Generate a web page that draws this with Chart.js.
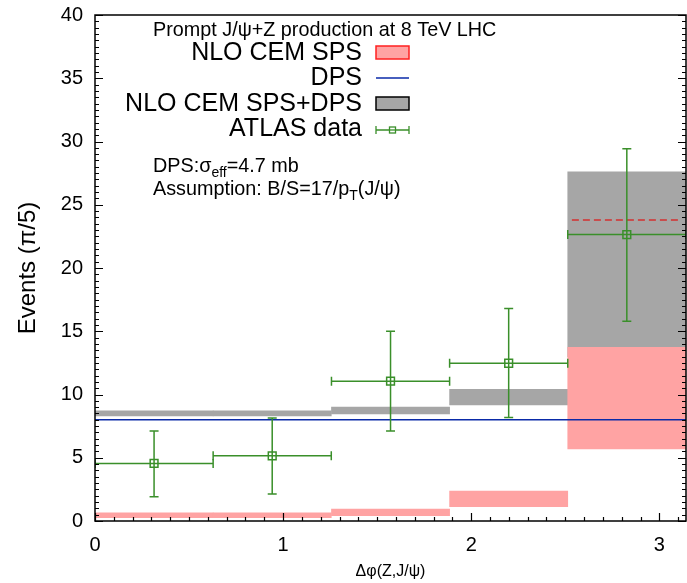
<!DOCTYPE html>
<html><head><meta charset="utf-8">
<script src="https://cdn.jsdelivr.net/npm/chart.js@4/dist/chart.umd.min.js"></script>
<style>html,body{margin:0;padding:0;background:#fff;overflow:hidden}canvas{display:block}</style>
</head><body><canvas id="c" width="687" height="583"></canvas>
<script>
// ---- data ----
const binCenters = [0.314, 0.942, 1.571, 2.199, 2.827];
const binHalfWidth = 0.314;
const sumLow  = [8.3, 8.3, 8.47, 9.18, 13.0];
const sumHigh = [8.7, 8.7, 9.0, 10.4, 27.6];
const spsLow  = [0.26, 0.26, 0.42, 1.13, 5.7];
const spsHigh = [0.65, 0.65, 0.95, 2.37, 13.73];
const dpsX = [0, Math.PI];
const dpsY = [8.0, 8.0];
const dashX = [2.535, 3.11];
const dashY = [23.8, 23.8];
const dataY = [4.55, 5.15, 11.05, 12.47, 22.64];
const dataYUp = [7.12, 8.15, 15.0, 16.8, 29.43];
const dataYDown = [1.92, 2.13, 7.12, 8.18, 15.8];
const xTicks = [0, 1, 2, 3];
const yTicks = [0, 5, 10, 15, 20, 25, 30, 35, 40];

const FONT = '"Liberation Sans", Arial, Helvetica, sans-serif';
const GREEN = '#3a8f2a';
const PINK = '#ffa3a3';
const GRAY = '#a6a6a6';
const BLUE = '#0a2aa8';

const errorBars = {
  id: 'errorBars',
  afterDatasetsDraw(chart) {
    const {ctx, chartArea: a, scales: {x, y}} = chart;
    ctx.save();
    ctx.beginPath(); ctx.rect(a.left, a.top, a.right - a.left, a.bottom - a.top); ctx.clip();
    ctx.strokeStyle = GREEN; ctx.lineWidth = 1.5;
    binCenters.forEach((cx, i) => {
      const px = x.getPixelForValue(cx), py = y.getPixelForValue(dataY[i]);
      const x0 = x.getPixelForValue(cx - binHalfWidth), x1 = x.getPixelForValue(cx + binHalfWidth);
      const yu = y.getPixelForValue(dataYUp[i]), yd = y.getPixelForValue(dataYDown[i]);
      ctx.beginPath();
      ctx.moveTo(x0, py); ctx.lineTo(x1, py);
      ctx.moveTo(x0, py - 4.5); ctx.lineTo(x0, py + 4.5);
      ctx.moveTo(x1, py - 4.5); ctx.lineTo(x1, py + 4.5);
      ctx.moveTo(px, yu); ctx.lineTo(px, yd);
      ctx.moveTo(px - 4.5, yu); ctx.lineTo(px + 4.5, yu);
      ctx.moveTo(px - 4.5, yd); ctx.lineTo(px + 4.5, yd);
      ctx.stroke();
    });
    ctx.restore();
  }
};

function drawSub(ctx, parts, x, yb) {
  let cx = x;
  parts.forEach(p => {
    ctx.font = (p.sub ? '14px ' : '19.8px ') + FONT;
    ctx.fillText(p.t, cx, yb + (p.sub ? 4.5 : 0));
    cx += ctx.measureText(p.t).width;
  });
}

const frame = {
  id: 'frame',
  afterDraw(chart) {
    const {ctx, chartArea: a, scales: {x, y}} = chart;
    ctx.save();
    ctx.strokeStyle = '#000'; ctx.lineWidth = 1.5;
    ctx.strokeRect(a.left, a.top, a.right - a.left, a.bottom - a.top);
    ctx.lineWidth = 1.2;
    ctx.beginPath();
    for (let k = 0; k <= 80; k++) {
      const v = k * 0.5, py = Math.round(y.getPixelForValue(v)) + 0.5;
      const len = (k % 10 === 0) ? 8 : 4;
      ctx.moveTo(a.left, py); ctx.lineTo(a.left + len, py);
      ctx.moveTo(a.right, py); ctx.lineTo(a.right - len, py);
    }
    for (let k = 0; k <= 31; k++) {
      const v = k * 0.1, px = Math.round(x.getPixelForValue(v)) + 0.5;
      const len = (k % 10 === 0) ? 8 : 4;
      ctx.moveTo(px, a.bottom); ctx.lineTo(px, a.bottom - len);
    }
    ctx.stroke();

    // legend & annotations
    ctx.fillStyle = '#000';
    ctx.textBaseline = 'alphabetic';
    ctx.font = '19.8px ' + FONT;
    ctx.textAlign = 'left';
    ctx.fillText('Prompt J/\u03c8+Z production at 8 TeV LHC', 153, 36);
    ctx.font = '25px ' + FONT;
    ctx.textAlign = 'right';
    ctx.fillText('NLO CEM SPS', 362, 60);
    ctx.fillText('DPS', 362, 85);
    ctx.fillText('NLO CEM SPS+DPS', 362, 111);
    ctx.fillText('ATLAS data', 362, 136);
    ctx.textAlign = 'left';
    // symbols
    ctx.fillStyle = PINK; ctx.fillRect(376, 46, 33, 13);
    ctx.strokeStyle = '#ff2020'; ctx.lineWidth = 1.5; ctx.strokeRect(376, 46, 33, 13);
    ctx.strokeStyle = BLUE; ctx.lineWidth = 1.3;
    ctx.beginPath(); ctx.moveTo(376, 78); ctx.lineTo(409, 78); ctx.stroke();
    ctx.fillStyle = GRAY; ctx.fillRect(376, 97, 33, 13);
    ctx.strokeStyle = '#000'; ctx.lineWidth = 1.5; ctx.strokeRect(376, 97, 33, 13);
    ctx.strokeStyle = GREEN; ctx.lineWidth = 1.3;
    ctx.beginPath();
    ctx.moveTo(376, 130); ctx.lineTo(409, 130);
    ctx.moveTo(376, 126); ctx.lineTo(376, 134);
    ctx.moveTo(409, 126); ctx.lineTo(409, 134);
    ctx.stroke();
    ctx.fillStyle = '#fff'; ctx.fillRect(389.5, 127, 6, 6);
    ctx.strokeRect(389.5, 127, 6, 6);
    ctx.beginPath(); ctx.moveTo(389.5, 130); ctx.lineTo(395.5, 130); ctx.stroke();

    ctx.fillStyle = '#000';
    drawSub(ctx, [{t: 'DPS:\u03c3'}, {t: 'eff', sub: true}, {t: '=4.7 mb'}], 153, 172);
    drawSub(ctx, [{t: 'Assumption: B/S=17/p'}, {t: 'T', sub: true}, {t: '(J/\u03c8)'}], 153, 195);
    ctx.restore();
  }
};

const toXY = (xs, ys) => xs.map((v, i) => ({x: v, y: ys[i]}));
const toRange = (lo, hi) => binCenters.map((c, i) => ({x: c, y: [lo[i], hi[i]]}));

new Chart(document.getElementById('c'), {
  data: {
    datasets: [
      {type: 'scatter', label: 'ATLAS data', data: toXY(binCenters, dataY), pointStyle: 'rect',
       pointRadius: 5.5, borderColor: GREEN, backgroundColor: 'rgba(0,0,0,0)', borderWidth: 1.5, order: 0},
      {type: 'line', label: 'dashed', data: toXY(dashX, dashY), borderColor: '#d43030', borderWidth: 1.5,
       borderDash: [7, 4], pointRadius: 0, order: 1},
      {type: 'line', label: 'DPS', data: toXY(dpsX, dpsY), borderColor: BLUE, borderWidth: 1.4,
       pointRadius: 0, order: 2},
      {type: 'bar', label: 'NLO CEM SPS', data: toRange(spsLow, spsHigh), backgroundColor: PINK,
       borderWidth: 0, grouped: false, barPercentage: 1, categoryPercentage: 1, order: 3},
      {type: 'bar', label: 'NLO CEM SPS+DPS', data: toRange(sumLow, sumHigh), backgroundColor: GRAY,
       borderWidth: 0, grouped: false, barPercentage: 1, categoryPercentage: 1, order: 4}
    ]
  },
  options: {
    responsive: false, animation: false,
    layout: {autoPadding: false, padding: {top: 15, right: 1, left: 0, bottom: 0}},
    plugins: {legend: {display: false}, tooltip: {enabled: false}},
    scales: {
      x: {type: 'linear', min: 0, max: Math.PI, offset: false,
        grid: {display: false}, border: {display: false},
        afterBuildTicks: s => { s.ticks = xTicks.map(v => ({value: v})); },
        afterFit: s => { s.height = 62; s.paddingRight = 0; s.paddingLeft = 0; },
        ticks: {font: {family: FONT, size: 20}, color: '#000', padding: 4, maxRotation: 0},
        title: {display: true, text: '\u0394\u03c6(Z,J/\u03c8)', font: {family: FONT, size: 16}, color: '#000', padding: {top: 0, bottom: 2}}},
      y: {type: 'linear', min: 0, max: 40,
        grid: {display: false}, border: {display: false},
        afterBuildTicks: s => { s.ticks = yTicks.map(v => ({value: v})); },
        afterFit: s => { s.width = 95; s.paddingTop = 0; s.paddingBottom = 0; },
        ticks: {font: {family: FONT, size: 20}, color: '#000', padding: 4},
        title: {display: true, text: 'Events (\u03c0/5)', font: {family: FONT, size: 24}, color: '#000', padding: {top: 14, bottom: 0}}}
    }
  },
  plugins: [errorBars, frame]
});
</script></body></html>
